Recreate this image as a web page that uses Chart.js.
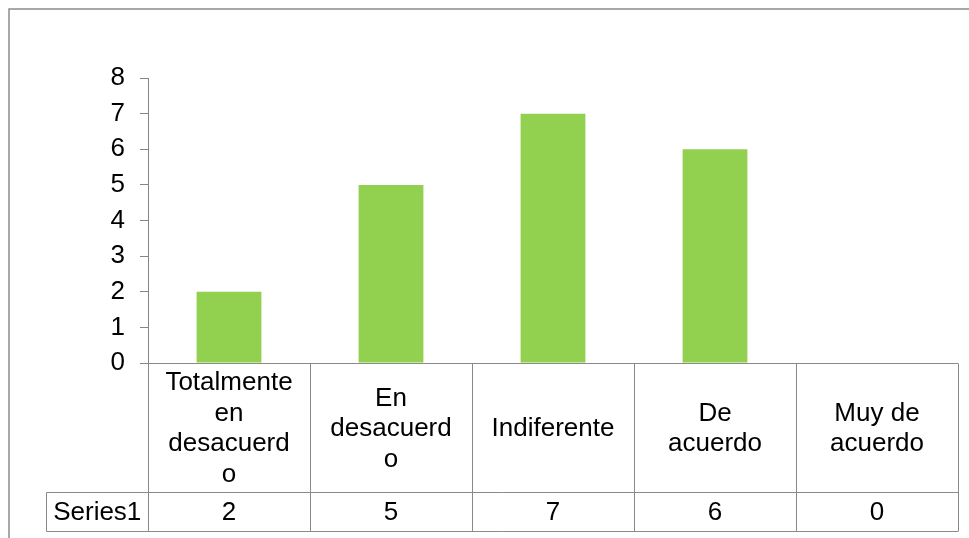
<!DOCTYPE html>
<html>
<head>
<meta charset="utf-8">
<script src="https://cdn.jsdelivr.net/npm/chart.js@4/dist/chart.umd.min.js"></script>
<style>
    body { margin: 0; background: #fff; }
    #wrap { width: 969px; height: 538px; }
</style>
</head>
<body>
<div id="wrap"><canvas id="barChart" width="969" height="538"></canvas></div>
<script>
const categories = ['Totalmente en desacuerdo', 'En desacuerdo', 'Indiferente', 'De acuerdo', 'Muy de acuerdo'];
const seriesName = 'Series1';
const seriesValues = [2, 5, 7, 6, 0];
const yTicks = [0, 1, 2, 3, 4, 5, 6, 7, 8];

const FONT_FAMILY = '"Liberation Sans", Arial, sans-serif';
const FONT_SIZE = 26;
const LINE = '#898989';

// Excel breaks a word by characters when it does not fit in the cell
function wrapLabel(ctx, text, maxWidth) {
    const lines = [];
    let current = '';
    text.split(' ').forEach(word => {
        const joined = current ? current + ' ' + word : word;
        if (ctx.measureText(joined).width <= maxWidth) {
            current = joined;
            return;
        }
        if (current) lines.push(current);
        let rest = word;
        while (ctx.measureText(rest).width > maxWidth) {
            let cut = rest.length - 1;
            while (cut > 1 && ctx.measureText(rest.slice(0, cut)).width > maxWidth) cut--;
            lines.push(rest.slice(0, cut));
            rest = rest.slice(cut);
        }
        current = rest;
    });
    if (current) lines.push(current);
    return lines;
}

const dataTable = {
    id: 'dataTable',
    afterDraw(chart) {
        const ctx = chart.ctx;
        const area = chart.chartArea;
        const n = categories.length;
        const colW = (area.right - area.left) / n;
        const top = Math.round(area.bottom) + 0.5;
        const headBottom = top + 129;
        const rowBottom = headBottom + 39;
        const nameLeft = 46.5;

        ctx.save();
        // outer frame of the chart
        ctx.strokeStyle = '#8c8c8c';
        ctx.lineWidth = 1.5;
        ctx.beginPath();
        ctx.moveTo(9, 538);
        ctx.lineTo(9, 9);
        ctx.lineTo(969, 9);
        ctx.stroke();

        ctx.strokeStyle = LINE;
        ctx.lineWidth = 1;
        ctx.beginPath();
        ctx.moveTo(area.left, top);
        ctx.lineTo(area.right, top);
        ctx.moveTo(nameLeft, headBottom);
        ctx.lineTo(area.right, headBottom);
        ctx.moveTo(nameLeft, rowBottom);
        ctx.lineTo(area.right, rowBottom);
        for (let i = 0; i <= n; i++) {
            const x = Math.round(area.left + i * colW) + 0.5;
            ctx.moveTo(x, top);
            ctx.lineTo(x, rowBottom);
        }
        ctx.moveTo(nameLeft, headBottom);
        ctx.lineTo(nameLeft, rowBottom);
        ctx.stroke();

        ctx.font = FONT_SIZE + 'px ' + FONT_FAMILY;
        ctx.fillStyle = '#000';
        ctx.textAlign = 'center';
        ctx.textBaseline = 'middle';
        const xScale = chart.scales.x;
        const lh = 30.5;
        categories.forEach((cat, i) => {
            const cx = xScale.getPixelForValue(i);
            const lines = wrapLabel(ctx, cat, colW * 0.8);
            const midY = (top + headBottom) / 2;
            const y0 = midY - (lines.length - 1) * lh / 2;
            lines.forEach((ln, k) => ctx.fillText(ln, cx, y0 + k * lh + 1));
            ctx.fillText(String(seriesValues[i]), cx, (headBottom + rowBottom) / 2 + 1);
        });
        ctx.fillText(seriesName, (nameLeft + area.left) / 2, (headBottom + rowBottom) / 2 + 1);
        ctx.restore();
    }
};

new Chart(document.getElementById('barChart').getContext('2d'), {
    type: 'bar',
    data: {
        labels: categories,
        datasets: [{
            label: seriesName,
            data: seriesValues,
            backgroundColor: '#92D050',
            barPercentage: 0.4,
            categoryPercentage: 1
        }]
    },
    options: {
        responsive: false,
        animation: false,
        layout: {
            padding: { left: 0, right: 11, top: 78, bottom: 175 }
        },
        plugins: {
            legend: { display: false },
            tooltip: { enabled: false }
        },
        scales: {
            x: { display: false },
            y: {
                min: 0,
                max: 8,
                afterFit: scale => { scale.width = 148; },
                afterBuildTicks: scale => { scale.ticks = yTicks.map(v => ({ value: v })); },
                border: { display: true, color: '#868686', width: 1 },
                grid: { drawOnChartArea: false, drawTicks: true, tickLength: 8, color: '#868686' },
                ticks: {
                    padding: 15,
                    color: '#000',
                    font: { family: FONT_FAMILY, size: FONT_SIZE }
                }
            }
        }
    },
    plugins: [dataTable]
});
</script>
</body>
</html>
